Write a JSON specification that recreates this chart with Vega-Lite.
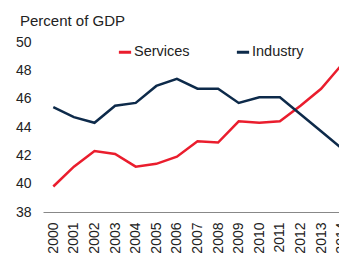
{
  "$schema": "https://vega.github.io/schema/vega-lite/v6.json",
  "autosize": {"type": "none"},
  "width": 296,
  "height": 170,
  "padding": {"left": 43, "top": 42, "right": 0, "bottom": 46},
  "background": "white",
  "title": {"text": "Percent of GDP", "anchor": "start", "frame": "group", "dx": -23, "offset": 6, "fontSize": 15, "fontWeight": "normal", "font": "Liberation Sans", "color": "#222"},
  "config": {"view": {"stroke": null}, "font": "Liberation Sans"},
  "data": {"values": [
    {"year": "2000", "series": "Services", "value": 39.8},
    {"year": "2001", "series": "Services", "value": 41.2},
    {"year": "2002", "series": "Services", "value": 42.3},
    {"year": "2003", "series": "Services", "value": 42.1},
    {"year": "2004", "series": "Services", "value": 41.2},
    {"year": "2005", "series": "Services", "value": 41.4},
    {"year": "2006", "series": "Services", "value": 41.9},
    {"year": "2007", "series": "Services", "value": 43.0},
    {"year": "2008", "series": "Services", "value": 42.9},
    {"year": "2009", "series": "Services", "value": 44.4},
    {"year": "2010", "series": "Services", "value": 44.3},
    {"year": "2011", "series": "Services", "value": 44.4},
    {"year": "2012", "series": "Services", "value": 45.5},
    {"year": "2013", "series": "Services", "value": 46.7},
    {"year": "2014", "series": "Services", "value": 48.4},
    {"year": "2000", "series": "Industry", "value": 45.4},
    {"year": "2001", "series": "Industry", "value": 44.7},
    {"year": "2002", "series": "Industry", "value": 44.3},
    {"year": "2003", "series": "Industry", "value": 45.5},
    {"year": "2004", "series": "Industry", "value": 45.7},
    {"year": "2005", "series": "Industry", "value": 46.9},
    {"year": "2006", "series": "Industry", "value": 47.4},
    {"year": "2007", "series": "Industry", "value": 46.7},
    {"year": "2008", "series": "Industry", "value": 46.7},
    {"year": "2009", "series": "Industry", "value": 45.7},
    {"year": "2010", "series": "Industry", "value": 46.1},
    {"year": "2011", "series": "Industry", "value": 46.1},
    {"year": "2012", "series": "Industry", "value": 44.9},
    {"year": "2013", "series": "Industry", "value": 43.7},
    {"year": "2014", "series": "Industry", "value": 42.5}
  ]},
  "mark": {"type": "line", "strokeWidth": 2.5},
  "encoding": {
    "x": {
      "field": "year", "type": "ordinal",
      "scale": {"type": "point", "range": [0, 309], "padding": 0.5},
      "axis": {"title": null, "labelAngle": -90, "labelAlign": "right", "labelBaseline": "middle", "labelPadding": 10, "ticks": false, "domainColor": "#888", "domainWidth": 1, "labelFontSize": 14, "labelColor": "#222", "labelFont": "Liberation Sans"}
    },
    "y": {
      "field": "value", "type": "quantitative",
      "scale": {"domain": [38, 50], "nice": false, "zero": false},
      "axis": {"title": null, "values": [38, 40, 42, 44, 46, 48, 50], "grid": false, "domain": false, "ticks": false, "labelPadding": 12, "labelFontSize": 14, "labelColor": "#222", "labelFont": "Liberation Sans"}
    },
    "color": {
      "field": "series", "type": "nominal",
      "scale": {"domain": ["Services", "Industry"], "range": ["#EA1D2D", "#0D2A4A"]},
      "legend": {"title": null, "orient": "none", "legendX": 74, "legendY": 2, "direction": "horizontal", "symbolType": "stroke", "symbolSize": 150, "symbolStrokeWidth": 3, "labelFontSize": 14.5, "labelColor": "#222", "labelFont": "Liberation Sans", "labelOffset": 1, "columnPadding": 40}
    }
  }
}
